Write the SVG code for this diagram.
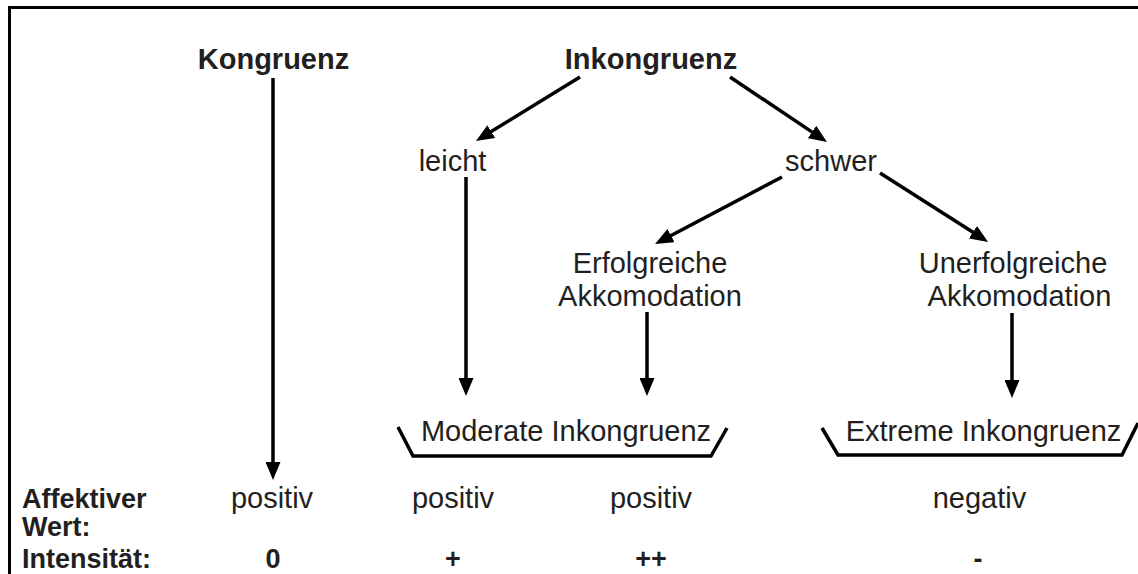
<svg xmlns="http://www.w3.org/2000/svg" width="1138" height="574" viewBox="0 0 1138 574">
  <style>
    .t { font-family: "Liberation Sans", Arial, sans-serif; font-size: 29px; fill: #231f20; text-anchor: middle; }
    .b { font-weight: bold; }
    .lbl { font-family: "Liberation Sans", Arial, sans-serif; font-size: 27px; font-weight: bold; fill: #231f20; }
    .val { font-family: "Liberation Sans", Arial, sans-serif; font-size: 27px; font-weight: bold; fill: #231f20; text-anchor: middle; }
    .edge { stroke: #000; stroke-width: 3.5; fill: none; marker-end: url(#head); }
    .brace { stroke: #000; stroke-width: 3.5; fill: none; stroke-linejoin: miter; }
  </style>
  <defs>
    <marker id="head" viewBox="0 0 18 15" refX="2" refY="7.5" markerWidth="18" markerHeight="15" markerUnits="userSpaceOnUse" orient="auto">
      <path d="M0,0 L18,7.5 L0,15 z" fill="#000"/>
    </marker>
  </defs>

  <rect x="0" y="0" width="1138" height="574" fill="#fff"/>
  <!-- frame (open to the right and bottom) -->
  <rect x="9.5" y="7.5" width="1200" height="700" fill="none" stroke="#000" stroke-width="3"/>

  <g id="kongruenz"><text class="t b" x="273.5" y="69">Kongruenz</text></g>
  <g id="inkongruenz"><text class="t b" x="651" y="69">Inkongruenz</text></g>
  <g id="leicht"><text class="t" x="452.5" y="171">leicht</text></g>
  <g id="schwer"><text class="t" x="831" y="171">schwer</text></g>
  <g id="erfolgreiche">
    <text class="t" x="650" y="273">Erfolgreiche</text>
    <text class="t" x="650" y="306">Akkomodation</text>
  </g>
  <g id="unerfolgreiche">
    <text class="t" x="1013" y="273">Unerfolgreiche</text>
    <text class="t" x="1019.5" y="306">Akkomodation</text>
  </g>
  <g id="moderate">
    <path class="brace" d="M398,427 L413,456 L711,456 L727,428"/>
    <text class="t" x="566" y="441">Moderate Inkongruenz</text>
  </g>
  <g id="extreme">
    <path class="brace" d="M822,428 L838,455 L1122,455 L1138,423"/>
    <text class="t" x="983.5" y="441">Extreme Inkongruenz</text>
  </g>

  <g id="connectors">
    <line class="edge" x1="273" y1="78" x2="273" y2="464"/>
    <line class="edge" x1="580" y1="77" x2="489.6" y2="132.6"/>
    <line class="edge" x1="730" y1="77" x2="813.7" y2="133.1"/>
    <line class="edge" x1="782" y1="177" x2="669.2" y2="236.5"/>
    <line class="edge" x1="880" y1="173" x2="974.6" y2="233.3"/>
    <line class="edge" x1="466" y1="177" x2="466" y2="380"/>
    <line class="edge" x1="647" y1="312" x2="647" y2="380"/>
    <line class="edge" x1="1012" y1="313" x2="1012" y2="382"/>
  </g>

  <g id="affektiver-wert">
    <text class="lbl" x="22" y="508">Affektiver</text>
    <text class="lbl" x="22" y="536">Wert:</text>
    <text class="t" x="272" y="508">positiv</text>
    <text class="t" x="453" y="508">positiv</text>
    <text class="t" x="651" y="508">positiv</text>
    <text class="t" x="979.5" y="508">negativ</text>
  </g>
  <g id="intensitaet">
    <text class="lbl" x="22" y="568">Intensität:</text>
    <text class="val" x="273" y="568">0</text>
    <text class="val" x="453" y="568">+</text>
    <text class="val" x="651" y="568">++</text>
    <text class="val" x="978" y="568">-</text>
  </g>
</svg>
